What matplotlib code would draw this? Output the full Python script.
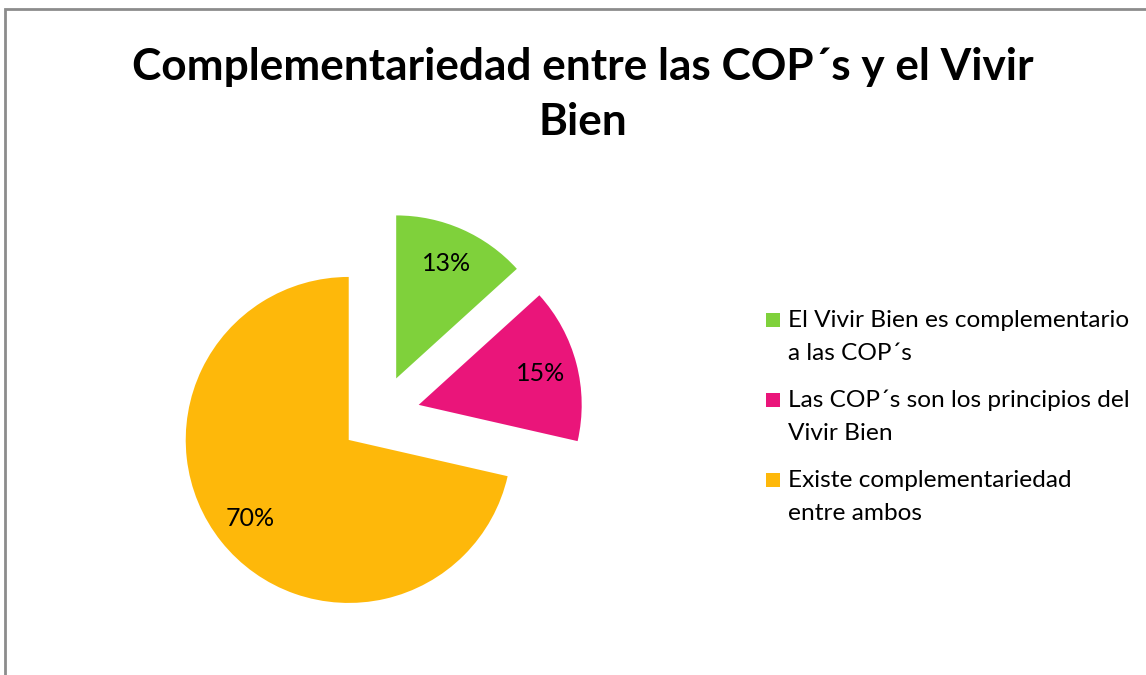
import numpy as np
import matplotlib
matplotlib.use("Agg")
import matplotlib.pyplot as plt
from matplotlib.patches import Rectangle

# ---- data ----
categories = ["El Vivir Bien es complementario\na las COP´s",
              "Las COP´s son los principios del\nVivir Bien",
              "Existe complementariedad\nentre ambos"]
values = [13, 15, 70]          # percent shown on slices
colors = ["#7FD13B", "#EA157A", "#FEB80A"]
title_lines = ["Complementariedad entre las COP´s y el Vivir", "Bien"]

W, H = 1146, 675
FONT = "Lato"
fig = plt.figure(figsize=(W / 100, H / 100), dpi=100)
fig.patch.set_facecolor("white")

def fx(px):
    return px / W

def fy(py):
    return 1 - py / H

# chart border (extends past right/bottom edges)
fig.patches.append(Rectangle((fx(5), fy(H + 20)), fx(W + 40), (H + 11) / H,
                             transform=fig.transFigure, fill=False,
                             edgecolor="#8c8c8c", linewidth=2))

# ---- pie: 1 data unit = 163 px ----
R = 163.0
ax = fig.add_axes([0, 0, 1, 1])
cx, cy = 380 / R, (H - 415) / R
explode = [40 / R] * len(values)
wedges, _ = ax.pie(values, colors=colors, startangle=90, counterclock=False,
                   explode=explode, radius=1.0, center=(cx, cy),
                   wedgeprops=dict(linewidth=0), frame=True)
ax.set_xlim(0, W / R)
ax.set_ylim(0, H / R)
ax.set_aspect("equal")
ax.axis("off")

pct_texts = []
for w, v in zip(wedges, values):
    th = np.deg2rad((w.theta1 + w.theta2) / 2)
    x0, y0 = w.center
    t = ax.text(x0 + 0.77 * np.cos(th), y0 + 0.77 * np.sin(th), f"{v}%",
                ha="center", va="center", fontsize=16, family=FONT,
                color="black")
    pct_texts.append(t)

# ---- title ----
t1 = fig.text(fx(583), fy(80), title_lines[0], ha="center", va="baseline",
              fontsize=30, fontweight="bold", family=FONT)
t2 = fig.text(fx(583), fy(135), title_lines[1], ha="center", va="baseline",
              fontsize=30, fontweight="bold", family=FONT)

# ---- legend (manual, marker aligned to first line) ----
base_y = [327, 407, 487]
leg_texts = []
for lab, col, by in zip(categories, colors, base_y):
    fig.patches.append(Rectangle((fx(766), fy(by)), 14 / W, 14 / H,
                                 transform=fig.transFigure, facecolor=col,
                                 edgecolor="none"))
    lines = lab.split("\n")
    for k, ln in enumerate(lines):
        tt = fig.text(fx(788), fy(by + 33 * k), ln, ha="left", va="baseline",
                      fontsize=14, family=FONT)
        leg_texts.append(tt)

# ---- fit font sizes to measured widths ----
fig.canvas.draw()
r = fig.canvas.get_renderer()

def fit(texts, ref, target):
    w = ref.get_window_extent(r).width
    s = ref.get_fontsize() * target / w
    for t in texts:
        t.set_fontsize(s)

fit([t1, t2], t1, 900)
fit(leg_texts, leg_texts[0], 341)
fit(pct_texts, pct_texts[0], 49)

fig.savefig("out.png", dpi=100, facecolor="white")
